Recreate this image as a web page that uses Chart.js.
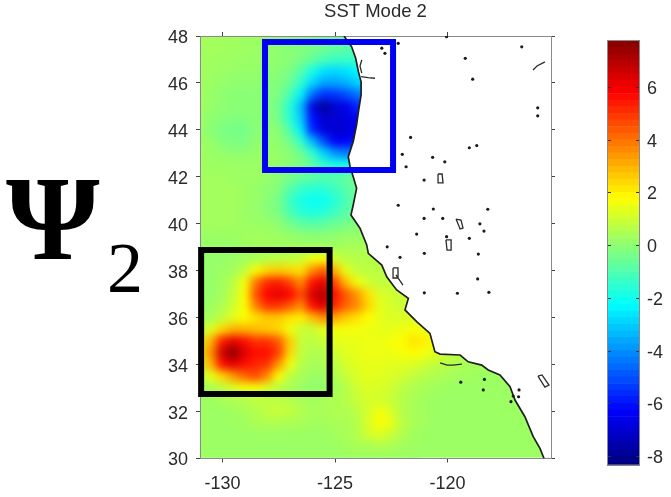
<!DOCTYPE html>
<html>
<head>
<meta charset="utf-8">
<title>SST Mode 2</title>
<script src="https://cdn.jsdelivr.net/npm/chart.js@4"></script>
<style>
  html, body { margin: 0; padding: 0; background: #fff; }
  #page { position: relative; width: 671px; height: 497px; overflow: hidden; }
  #map { position: absolute; left: 0; top: 0; }
  #cbar { position: absolute; left: 590px; top: 0; }
  .mode { position: absolute; font-family: "Liberation Serif", serif; color: #000; line-height: 1; }
  #psi { left: 6px; top: 159px; font-size: 120px; font-weight: bold; }
  #sub { left: 107px; top: 232px; font-size: 72px; }
</style>
</head>
<body>
<div id="page">
  <canvas id="map" width="671" height="497"></canvas>
  <canvas id="cbar" width="81" height="497"></canvas>
  <div class="mode" id="psi">Ψ</div>
  <div class="mode" id="sub">2</div>
</div>
<script>
const chartTitle = 'SST Mode 2';
const xTicks = [-130, -125, -120];
const yTicks = [30, 32, 34, 36, 38, 40, 42, 44, 46, 48];
const cbarTicks = [-8, -6, -4, -2, 0, 2, 4, 6];

const lons = [-131, -130.5, -130, -129.5, -129, -128.5, -128, -127.5, -127, -126.5, -126, -125.5, -125, -124.5, -124, -123.5,
  -123, -122.5, -122, -121.5, -121, -120.5, -120, -119.5, -119, -118.5, -118, -117.5, -117, -116.5, -116, -115.5];
const lats = [48, 47.5, 47, 46.5, 46, 45.5, 45, 44.5, 44, 43.5, 43, 42.5, 42, 41.5, 41, 40.5, 40, 39.5, 39, 38.5, 38, 37.5, 37,
  36.5, 36, 35.5, 35, 34.5, 34, 33.5, 33, 32.5, 32, 31.5, 31, 30.5, 30];

// open water value under everything, rows below only go out to just past the coast
const openWater = 0.2;
const sstRows = [
  [.3, .3, .3, .3, .25, .2, .2, .1, 0, -.1, -.2, -.3, -.4, -.6, -.8, -.8],
  [.3, .3, .3, .25, .2, .2, .1, 0, -.1, -.2, -.3, -.5, -.7, -.8, -1, -1],
  [.3, .3, .25, .2, .2, .1, .1, 0, -.1, -.3, -.7, -1.1, -1.3, -1.4, -1.4, -1.4],
  [.3, .2, .2, .1, .1, .1, 0, -.1, -.3, -.9, -1.9, -2.7, -2.9, -2.7, -2.4, -2.4],
  [.3, .2, .1, 0, 0, 0, -.1, -.2, -.6, -1.5, -2.9, -3.7, -3.7, -3.5, -3, -2.8],
  [.3, .1, 0, -.1, -.1, -.1, -.1, -.3, -1.1, -2.5, -4.6, -5.6, -5.5, -5.1, -4.5, -4],
  [.3, .1, 0, -.1, -.1, -.1, -.1, -.5, -1.7, -3.3, -6.7, -7.9, -7, -6.6, -5.8, -5],
  [.2, 0, -.1, -.2, -.2, -.1, -.1, -.4, -1.6, -3.1, -6.1, -7, -7, -6.8, -6.4, -6],
  [.2, -.1, -.3, -.4, -.4, -.1, 0, -.1, -1, -2.5, -5.7, -6.8, -7, -7, -6.6, -6],
  [.2, .1, -.2, -.3, -.3, 0, .1, 0, -.4, -1.5, -3.3, -5.1, -6.4, -6.4, -6, -5.6],
  [.3, .2, .1, 0, 0, .1, .2, .1, -.1, -.5, -1.5, -2.9, -3.9, -4.3, -4, -3.8],
  [.3, .2, .2, .2, .2, .2, .2, .1, -.1, -.2, -.7, -1.5, -1.9, -2, -1.8, -1.8],
  [.3, .3, .3, .2, .2, .2, .1, -.1, -.3, -.6, -.8, -.9, -.9, -.7, -.5, -.5],
  [.3, .3, .3, .3, .2, .1, 0, -.2, -.9, -1.4, -1.6, -1.6, -1.3, -.9, -.5, -.3],
  [.3, .3, .3, .3, .2, .1, -.1, -.4, -1.3, -1.9, -2.1, -2.1, -1.7, -1.1, -.6, -.3],
  [.3, .3, .3, .3, .2, .1, -.1, -.3, -1.1, -1.6, -1.8, -1.7, -1.3, -.9, -.5, -.2],
  [.3, .3, .3, .3, .2, .2, .1, 0, -.4, -.8, -.9, -.8, -.6, -.4, -.2, -.1, 0],
  [.2, .2, .2, .2, .3, .3, .3, .2, .1, 0, -.1, -.1, 0, .1, .1, .2, .2],
  [.1, .1, .1, .1, .2, .3, .3, .3, .3, .3, .3, .3, .3, .4, .4, .4, .4, .4],
  [.1, .1, .1, .2, .3, .4, .6, .7, .8, .9, 1.6, 1.7, 1, .7, .6, .6, .6, .6],
  [.1, .1, .2, .3, .8, 1.8, 2.4, 2.6, 2.4, 2.2, 3.6, 4.4, 3, 1.4, .8, .7, .7, .7, .7],
  [.1, .1, .3, .7, 1.6, 4, 5.2, 5.4, 4.8, 3.6, 5.6, 6.2, 4.8, 2.8, 1.6, 1, .8, .8, .8],
  [.1, .1, .3, .8, 1.8, 4.6, 5.8, 6.2, 5.8, 4.6, 6.4, 7, 5.6, 4.4, 3.4, 2.2, 1.2, 1, .9, .9],
  [.1, .2, .5, 1, 1.8, 3.8, 5, 5, 4.4, 3.6, 5.6, 6.4, 5.2, 4.2, 3.6, 2.4, 1.4, 1.1, 1, 1, 1],
  [.2, .4, .8, 1.3, 1.8, 2.2, 2.6, 2.6, 2.2, 2, 2.8, 3.6, 3.2, 2.6, 2.2, 1.8, 1.4, 1.2, 1.2, 1.2, 1.2, 1.2],
  [.4, 1.3, 2.4, 3, 3, 2.8, 2.6, 2.4, 1.6, .9, .9, 1.4, 1.6, 1.6, 1.6, 1.5, 1.4, 1.4, 1.5, 1.7, 1.5, 1.3],
  [1.2, 3, 5.4, 6.2, 5.6, 5, 5, 4.4, 2.6, .9, .7, .9, 1.3, 1.4, 1.4, 1.5, 1.5, 1.6, 1.8, 2.2, 2, 1.6, 1.2],
  [1.5, 3.6, 6.6, 7.6, 6.2, 5.6, 5.6, 4.8, 2.4, .8, .5, .6, 1, 1.3, 1.4, 1.5, 1.5, 1.5, 1.6, 1.8, 1.6, 1.3, 1, .7],
  [1, 3, 5.6, 6.2, 5.6, 5.2, 5, 3.4, 1.6, .6, .4, .4, .7, 1.1, 1.3, 1.4, 1.4, 1.3, 1.3, 1.2, 1, .8, .6, .5, .4, .3, .3, .3],
  [.5, 1.4, 2.4, 3.4, 4.2, 4.6, 3.6, 1.8, .7, .4, .2, .2, .5, .9, 1.2, 1.4, 1.3, 1.2, 1, .8, .6, .5, .4, .3, .3, .2, .2, .2, .2],
  [.3, .4, .7, 1.2, 1.6, 1.6, 1.2, .6, .4, .2, 0, .1, .3, .6, 1, 1.2, 1.1, 1, .7, .5, .4, .3, .2, .2, .2, .2, .2, .2, .2],
  [.2, .2, .4, .5, .6, .7, .7, .7, .6, .4, .3, .4, .5, .6, .9, 1.1, 1.1, .9, .6, .4, .3, .2, .2, .2, .2],
  [.2, .2, .2, .3, .4, .6, .8, .9, .8, .6, .4, .4, .5, .5, .7, 1.1, 1.6, 1.2, .6, .4, .3, .2, .2, .2],
  [.2, .2, .2, .2, .3, .4, .5, .5, .4, .4, .3, .3, .4, .4, .6, 1.2, 1.8, 1.4, .7, .4, .3, .2, .2],
  [.2, .2, .2, .2, .2, .2, .2, .2, .2, .2, .2, .2, .3, .4, .6, 1, 1.2, .9, .5, .3, .2, .2],
  [.2, .2, .2, .2, .2, .2, .2, .2, .2, .2, .2, .2, .2, .3, .4, .4, .5, .4, .3, .2],
  [.2, .2, .2, .2, .2, .2, .2, .2, .2, .2, .2, .2, .2, .2, .2, .2, .2, .2, .2, .2]
];

const coastLon = [-124.6, -124.26, -124.08, -123.96, -123.84, -123.84, -123.96, -124.04, -124.19, -124.41, -124.33, -124.19, -124.04,
  -124.19, -124.29, -123.89, -123.59, -123.52, -122.92, -122.7, -122.26, -121.74, -121.89, -121.37, -120.78, -120.56, -120.33,
  -119.44, -119.08, -118.48, -118.19, -117.67, -117.22, -117, -116.56, -116.19, -115.89, -115.71];
const coastLat = [48, 47.54, 47.05, 46.48, 46.05, 45.49, 44.77, 44.21, 43.5, 42.86, 42.43, 42, 41.51,
  40.8, 40.37, 39.81, 39.1, 38.74, 38.24, 37.74, 37.18, 36.82, 36.33, 35.83, 35.33, 34.55, 34.45,
  34.41, 34.12, 33.98, 33.77, 33.56, 33.06, 32.49, 31.78, 30.93, 30.43, 30];

const lakeDotLon = [-120.04, -116.7, -119.21, -118.88, -115.99, -115.99, -121.64, -118.7, -119.03, -122.01, -120.66, -120.12, -121.84,
  -121.04, -122.19, -120.63, -118.21, -121.04, -120.21, -118.56, -121.37, -118.38, -119.03, -120.04, -122.68, -121.03, -118.63,
  -118.66, -121.03, -119.56, -118.16, -119.41, -118.36, -118.41, -116.82, -116.84, -117.08, -117.18, -122.11, -122.92, -122.19, -122.78];
const lakeDotLat = [47.97, 47.54, 47.05, 46.16, 44.94, 44.6, 43.68, 43.33, 43.24, 42.96, 42.83, 42.64, 42.43,
  41.86, 40.79, 40.63, 40.62, 40.23, 40.23, 40, 39.56, 39.69, 39.38, 39.45, 39.02, 38.74, 38.71,
  37.65, 37.06, 37.04, 37.08, 33.25, 33.37, 32.92, 32.92, 32.63, 32.66, 32.42, 38.57, 47.48, 47.69, 47.26];

// null breaks the outline between two lakes
const lakeLineLon = [-116.2, -116.02, -115.67, null, -123.81, -123.89, -123.81, null, -123.84, -123.53, -123.22, null,
  -120.42, -120.24, -120.2, -120.42, -120.42, null, -119.62, -119.4, -119.31, -119.44, -119.62, null,
  -120.07, -119.84, -119.84, -120.02, -120.07, null, -122.42, -122.2, -122.2, -122.42, -122.42, null, -122.29, -121.98, null,
  -115.98, -115.8, -115.49, -115.67, -115.98, null, -120.33, -120.02, -119.76, -119.36];
const lakeLineLat = [46.55, 46.72, 46.9, null, 46.98, 46.72, 46.42, null, 46.27, 46.23, 46.2, null,
  42.12, 42.12, 41.74, 41.74, 42.12, null, 40.2, 40.16, 39.82, 39.78, 40.2, null,
  39.31, 39.31, 38.88, 38.88, 39.31, null, 38.12, 38.12, 37.69, 37.69, 38.12, null, 37.82, 37.39, null,
  33.51, 33.56, 33.13, 33.04, 33.51, null, 34.07, 33.98, 33.98, 34.02];

const blueBoxLon = [-128.11, -122.42, -122.42, -128.11, -128.11];
const blueBoxLat = [47.74, 47.74, 42.29, 42.29, 47.74];
const blackBoxLon = [-130.95, -125.24, -125.24, -130.95, -130.95];
const blackBoxLat = [38.88, 38.88, 32.75, 32.75, 38.88];

const cbarEdges = [-8.5, -8.25, -8, -7.75, -7.5, -7.25, -7, -6.75, -6.5, -6.25, -6, -5.75, -5.5, -5.25, -5, -4.75, -4.5, -4.25, -4, -3.75,
  -3.5, -3.25, -3, -2.75, -2.5, -2.25, -2, -1.75, -1.5, -1.25, -1, -.75, -.5, -.25, 0, .25, .5, .75, 1, 1.25, 1.5, 1.75, 2, 2.25,
  2.5, 2.75, 3, 3.25, 3.5, 3.75, 4, 4.25, 4.5, 4.75, 5, 5.25, 5.5, 5.75, 6, 6.25, 6.5, 6.75, 7, 7.25, 7.5, 7.75, 8];

const fontFamily = '"Liberation Sans", Arial, sans-serif';
const textColor = '#2a2a2a';
const axisColor = '#8a8a8a';
const tickColor = '#444';

function jet(v) {
  const t = (v + 8.3) / 16.1;
  const ch = (c) => Math.round(255 * Math.max(0, Math.min(1, 1.5 - Math.abs(4 * t - c))));
  return `rgb(${ch(3)},${ch(2)},${ch(1)})`;
}

const zipPoints = (xs, ys) => xs.map((x, i) => ({ x: x, y: ys[i] }));

const heatPoints = [];
const heatColors = [];
sstRows.forEach((row, r) => {
  row.forEach((v, c) => {
    heatPoints.push({ x: lons[c], y: lats[r] });
    heatColors.push(jet(v));
  });
});

// backdrop, smoothing of the cells and the white land all depend on the drawing order
const mapPainter = {
  id: 'mapPainter',
  beforeDatasetsDraw(chart) {
    const a = chart.chartArea;
    const ctx = chart.ctx;
    ctx.save();
    ctx.fillStyle = jet(openWater);
    ctx.fillRect(a.left + 1, a.top + 1, a.width - 2, a.height - 2);
    ctx.restore();
  },
  afterDatasetDraw(chart, args) {
    if (chart.data.datasets[args.index].label !== 'SST') return;
    const a = chart.chartArea;
    const ctx = chart.ctx;
    const xs = chart.scales.x;
    const ys = chart.scales.y;
    ctx.save();
    ctx.beginPath();
    ctx.rect(a.left + 1, a.top + 1, a.width - 2, a.height - 2);
    ctx.clip();
    ctx.filter = 'blur(4.5px)';
    ctx.drawImage(chart.canvas, a.left + 1, a.top + 1, a.width - 2, a.height - 2, a.left + 1, a.top + 1, a.width - 2, a.height - 2);
    ctx.filter = 'none';
    ctx.fillStyle = '#fff';
    ctx.beginPath();
    ctx.moveTo(xs.getPixelForValue(coastLon[0]), a.top);
    coastLon.forEach((lon, i) => ctx.lineTo(xs.getPixelForValue(lon), ys.getPixelForValue(coastLat[i])));
    ctx.lineTo(xs.getPixelForValue(coastLon[coastLon.length - 1]), a.bottom);
    ctx.lineTo(a.right, a.bottom);
    ctx.lineTo(a.right, a.top);
    ctx.closePath();
    ctx.fill();
    ctx.restore();
  }
};

function fixedWidth(w) {
  return (scale) => { scale.width = w; };
}
function fixedHeight(h) {
  return (scale) => { scale.height = h; };
}
const useTicks = (list) => (scale) => { scale.ticks = list.map((v) => ({ value: v })); };

const mapAxisBase = {
  type: 'linear',
  border: { display: true, color: axisColor, width: 1 },
  grid: { drawOnChartArea: false, drawTicks: true, tickLength: 4, tickColor: tickColor, tickWidth: 1 }
};

new Chart(document.getElementById('map'), {
  type: 'scatter',
  data: {
    datasets: [
      {
        label: 'SST', data: heatPoints, order: 6, clip: -1,
        pointStyle: 'rect', pointRadius: 8.5, pointBorderWidth: 0, pointBackgroundColor: heatColors
      },
      {
        label: 'Coast', data: zipPoints(coastLon, coastLat), order: 5, showLine: true, pointRadius: 0,
        borderColor: '#1f1f1f', borderWidth: 1.7, tension: 0
      },
      {
        label: 'Lake outlines', data: zipPoints(lakeLineLon, lakeLineLat), order: 4, showLine: true, pointRadius: 0,
        borderColor: '#2a2a2a', borderWidth: 1.3, spanGaps: false, clip: false
      },
      {
        label: 'Lakes', data: zipPoints(lakeDotLon, lakeDotLat), order: 3, pointRadius: 1.6, pointBorderWidth: 0,
        pointBackgroundColor: '#1c1c1c'
      },
      {
        label: 'Box blue', data: zipPoints(blueBoxLon, blueBoxLat), order: 2, showLine: true, pointRadius: 0,
        borderColor: '#0000f5', borderWidth: 6, borderCapStyle: 'square', borderJoinStyle: 'miter', clip: false
      },
      {
        label: 'Box black', data: zipPoints(blackBoxLon, blackBoxLat), order: 1, showLine: true, pointRadius: 0,
        borderColor: '#000', borderWidth: 6, borderCapStyle: 'square', borderJoinStyle: 'miter', clip: false
      }
    ]
  },
  options: {
    responsive: false,
    animation: false,
    events: [],
    layout: { padding: 0 },
    plugins: {
      legend: { display: false },
      tooltip: { enabled: false },
      title: {
        display: true, text: chartTitle, color: textColor, fullSize: false,
        font: { family: fontFamily, size: 18.5, weight: 'normal', lineHeight: 1.2 },
        padding: { top: 1, bottom: 0 }
      }
    },
    scales: {
      x: {
        ...mapAxisBase, position: 'bottom', min: -131, max: -115.4,
        afterBuildTicks: useTicks(xTicks), afterFit: fixedHeight(38.5),
        ticks: { color: textColor, padding: 11, font: { family: fontFamily, size: 18 } }
      },
      y: {
        ...mapAxisBase, position: 'left', min: 30, max: 48,
        afterBuildTicks: useTicks(yTicks), afterFit: fixedWidth(200),
        ticks: { color: textColor, padding: 8, labelOffset: 2, font: { family: fontFamily, size: 18 } }
      },
      x2: {
        ...mapAxisBase, position: 'top', display: true, min: -131, max: -115.4,
        afterBuildTicks: useTicks(xTicks), afterFit: fixedHeight(12.8),
        ticks: { display: false }
      },
      y2: {
        ...mapAxisBase, position: 'right', display: true, min: 30, max: 48,
        afterBuildTicks: useTicks(yTicks), afterFit: fixedWidth(120),
        ticks: { display: false }
      }
    }
  },
  plugins: [mapPainter]
});

const cbarTickMarks = {
  id: 'cbarTickMarks',
  afterDatasetsDraw(chart) {
    const a = chart.chartArea;
    const ctx = chart.ctx;
    ctx.save();
    ctx.strokeStyle = '#333';
    ctx.lineWidth = 1;
    cbarTicks.forEach((v) => {
      const py = Math.round(chart.scales.y.getPixelForValue(v)) + 0.5;
      ctx.beginPath();
      ctx.moveTo(a.left, py);
      ctx.lineTo(a.left + 4, py);
      ctx.moveTo(a.right - 4, py);
      ctx.lineTo(a.right, py);
      ctx.stroke();
    });
    ctx.strokeStyle = axisColor;
    ctx.strokeRect(a.left + 0.5, a.top + 0.5, a.width - 1, a.height - 1);
    ctx.restore();
  }
};

new Chart(document.getElementById('cbar'), {
  type: 'bar',
  data: {
    labels: [''],
    datasets: cbarEdges.slice(0, -1).map((lo, i) => ({
      label: String(lo),
      data: [[lo, cbarEdges[i + 1]]],
      backgroundColor: jet(lo + 0.125),
      borderWidth: 0,
      barPercentage: 1,
      categoryPercentage: 1,
      grouped: false
    }))
  },
  options: {
    responsive: false,
    animation: false,
    events: [],
    layout: { padding: { left: 17, right: 0, top: 40, bottom: 31.5 } },
    plugins: { legend: { display: false }, tooltip: { enabled: false } },
    scales: {
      x: { display: false },
      y: {
        position: 'right', min: -8.36, max: 7.78,
        afterBuildTicks: useTicks(cbarTicks), afterFit: fixedWidth(31),
        border: { display: false },
        grid: { display: false, drawTicks: false },
        ticks: {
          color: textColor, padding: 7, crossAlign: 'near', autoSkip: false, labelOffset: 2,
          font: { family: fontFamily, size: 18 }
        }
      }
    }
  },
  plugins: [cbarTickMarks]
});
</script>
</body>
</html>
